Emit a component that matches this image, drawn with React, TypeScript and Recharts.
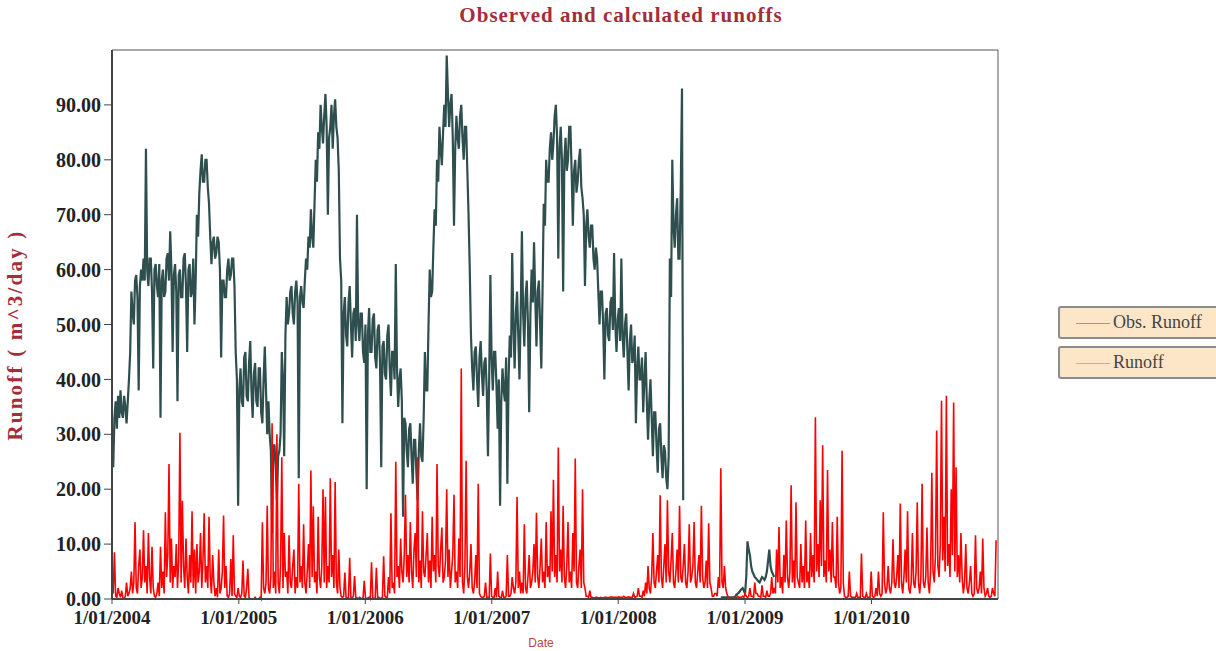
import React from "react";
import { LineChart, Line, XAxis, YAxis, ReferenceLine } from "recharts";

// x axis = days since 1/01/2004, two readings per week
const STEP_DAYS = 3.5;
const yearTicks = [0, 366, 731, 1096, 1461, 1827, 2192];
const yearLabels = ["1/01/2004", "1/01/2005", "1/01/2006", "1/01/2007", "1/01/2008", "1/01/2009", "1/01/2010"];
const yTicks = [0, 10, 20, 30, 40, 50, 60, 70, 80, 90];

// Obs. Runoff, one row per quarter (2004 Q1 ... 2009 Q1)
const obsRunoff: (number | null)[] = [
  30, 24, 33, 36, 31, 37, 33, 38, 34, 33, 37, 35, 32, 36, 40, 45, 56, 52, 50, 58, 59, 55, 38, 57, 60, 58,
  62, 58, 82, 60, 57, 62, 62, 56, 42, 60, 61, 57, 55, 61, 33, 58, 60, 55, 56, 62, 63, 58, 67, 60, 45, 59,
  61, 56, 36, 59, 60, 55, 55, 62, 63, 57, 45, 60, 61, 55, 56, 62, 50, 58, 70, 66, 74, 78, 81, 76, 76, 80,
  80, 75, 72, 66, 61, 65, 66, 62, 63, 66, 65, 60, 44, 58, 58, 55, 55, 60, 62, 58, 59, 62, 62, 57, 45, 40,
  17, 38, 42, 36, 35, 44, 45, 37, 36, 43, 47, 38, 33, 41, 43, 36, 35, 42, 42, 34, 32, 40, 46, 38, 30, 36,
  30, 27, 12, 28, 28, 24, 18, 26, 27, 30, 45, 40, 26, 48, 55, 50, 52, 56, 57, 52, 50, 56, 58, 54, 22, 55,
  57, 54, 53, 58, 62, 60, 66, 64, 71, 66, 64, 72, 80, 76, 85, 82, 90, 86, 83, 88, 92, 86, 70, 84, 86, 90,
  82, 88, 91, 86, 84, 78, 62, 58, 32, 52, 55, 48, 46, 54, 57, 50, 44, 52, 53, 47, 70, 50, 47, 52, 52, 45,
  43, 50, 20, 48, 53, 45, 45, 51, 52, 44, 42, 49, 50, 43, 24, 46, 47, 41, 40, 48, 50, 42, 37, 45, 45, 40,
  61, 42, 35, 40, 42, 36, 15, 33, 32, 27, 24, 31, 32, 26, 21, 29, 29, 23, 18, 27, 32, 26, 25, 33, 45, 38,
  38, 50, 60, 55, 56, 64, 71, 68, 80, 76, 86, 82, 79, 85, 90, 86, 99, 92, 86, 90, 92, 84, 68, 82, 88, 84,
  82, 88, 90, 84, 80, 86, 86, 78, 70, 60, 48, 42, 38, 45, 46, 40, 35, 44, 47, 41, 37, 43, 44, 38, 26, 40,
  59, 44, 38, 45, 45, 39, 31, 40, 17, 36, 42, 38, 36, 44, 21, 40, 48, 44, 63, 50, 42, 52, 56, 48, 40, 52,
  67, 52, 46, 55, 58, 50, 34, 52, 60, 54, 65, 55, 46, 56, 58, 50, 42, 56, 72, 68, 80, 76, 76, 82, 85, 80,
  83, 88, 90, 84, 62, 82, 86, 80, 56, 80, 84, 78, 80, 86, 86, 78, 68, 78, 80, 74, 76, 80, 82, 75, 73, 70,
  57, 68, 71, 66, 64, 68, 68, 62, 60, 64, 62, 56, 50, 56, 56, 50, 40, 52, 53, 48, 47, 54, 55, 49, 63, 50,
  45, 51, 53, 47, 62, 48, 44, 50, 52, 45, 38, 47, 50, 43, 44, 48, 32, 42, 46, 40, 40, 44, 34, 40, 45, 36,
  29, 36, 40, 33, 26, 34, 34, 28, 23, 31, 32, 26, 22, 28, 27, 22, 20, 26, 62, 55, 80, 68, 64, 70, 73, 62,
  62, 75, 93, 18, null, null, null, null, null, null, null, null, null, null, null, null, null, null, null, null, null, null, null, null, null, null,
  null, null, null, null, null, null, null, null, 0.3, 0.3, 0.3, 0.3, 0.3, 0.3, 0.3, 0.3, 0.3, 0.3, 0.3, 0.3, 0.5, 0.8, 1, 1.2, 1.5, 1.8,
  2, 1.5, 1, 4, 10.5, 9, 8, 6, 5, 4.5, 4, 3.8, 3.5, 3.2, 3, 3.5, 4, 3.8, 3.5, 4, 5, 7, 9, 6, 5, 4.5,
  4,
];

// calculated Runoff, one row per quarter (2004 Q1 ... 2010 Q4)
const calcRunoff = [
  5, 1, 8.5, 0.5, 0.3, 2, 1, 0.3, 1.5, 0.2, 0, 0.5, 3, 0.5, 1, 2, 5, 1, 3, 14, 2, 1, 6, 9, 2, 4,
  12.5, 3, 6, 1, 12, 4, 1, 9.5, 2, 0.5, 0.3, 1, 3, 0.5, 9.5, 2, 5, 1, 15.8, 4, 8, 24.6, 3, 11, 2, 6,
  4, 10, 2, 7, 30.3, 3, 17.9, 6, 2, 11, 4, 1, 8, 3, 16, 2, 9, 1, 10, 3, 5, 12, 2, 7, 15.6, 3,
  6, 2, 15, 4, 1, 8, 3, 0.5, 2, 0.3, 9, 1, 2, 5, 15.2, 2, 6, 0.5, 0.3, 1, 7.3, 0.5, 11.6, 1, 0.5, 0.3,
  2, 0.5, 0.3, 1, 7, 0.5, 0.3, 2, 5.5, 0.3, 0, 0, 0, 0, 0.3, 0, 0, 0, 0.3, 0, 14, 2, 1, 3, 17, 2,
  1, 4, 32, 2, 5, 1, 30, 3, 1, 6, 25.8, 2, 12, 4, 5, 1, 11.6, 3, 2, 6, 9, 1, 4, 2, 21, 3,
  6, 2, 13.6, 3, 1, 5, 10, 2, 23.4, 4, 16.9, 3, 5, 1, 15, 4, 2, 6, 20, 3, 18.6, 2, 6, 3, 22, 4,
  8, 2, 21.3, 3, 1, 9, 2, 0.5, 0.3, 0.5, 4.8, 0.3, 0.2, 0.3, 7.5, 0.3, 0.2, 0.5, 4.2, 0.3, 0.2, 0, 0.3, 0.2, 0, 0.2,
  3.3, 0.3, 0, 0.2, 0.3, 0, 6.7, 0.3, 0, 0.2, 5.7, 0.3, 0.3, 0, 0.2, 0.3, 7.8, 0.5, 0.3, 0.2, 4, 1, 15.6, 2, 3, 1,
  25, 4, 6, 2, 11, 5, 3, 8, 19, 4, 8, 3, 14, 5, 2, 9, 12, 4, 25.8, 3, 7, 2, 16, 5, 4, 8,
  12, 3, 7, 2, 15, 5, 8, 3, 24.6, 6, 4, 9, 13, 3, 4, 7, 20, 4, 9, 2, 5, 8, 19, 3, 5, 2,
  11, 4, 42, 3, 1, 6, 25.2, 4, 2, 5, 10, 2, 1, 3, 8, 2, 21, 1, 0.5, 0.3, 0.3, 0.5, 3, 0.3, 0.3, 0.2,
  8.3, 0.5, 0.3, 0.2, 2, 0.3, 5, 0.5, 0.3, 0.2, 1.5, 0.3, 0.3, 0.5, 8, 0.5, 0.5, 1, 4, 2, 1, 3, 18.6, 2, 5, 1,
  3, 1, 13.6, 2, 1, 4, 8, 2, 3, 5, 10, 3, 15.7, 4, 2, 6, 11, 3, 5, 2, 14, 4, 6, 3, 16, 5,
  21.7, 4, 8, 3, 27.6, 5, 9, 3, 17, 4, 2, 6, 14, 3, 5, 2, 12, 5, 25.6, 3, 2, 6, 9, 2, 20, 3,
  2, 0.5, 0.5, 0.3, 1.5, 0.3, 0.3, 0.2, 0.2, 0.3, 0.3, 0.2, 0.2, 0.3, 0.2, 0.2, 0.3, 0.3, 0.3, 0.2, 0.3, 0.3, 0.4, 0.3, 0.3, 0.3,
  0.3, 0.3, 0.4, 0.3, 0.3, 0.3, 0.5, 0.3, 0.3, 0.3, 0.4, 0.3, 0.3, 0.3, 1, 0.3, 0.4, 0.5, 2, 0.5, 0.5, 0.3, 1.5, 0.5, 3, 1,
  6, 2, 1, 4, 12, 3, 2, 5, 8, 3, 18.9, 4, 2, 6, 10, 3, 18, 5, 3, 7, 12, 3, 2, 5, 9, 3,
  17, 4, 3, 6, 10, 3, 2, 5, 13.6, 3, 4, 6, 14, 3, 2, 5, 8, 3, 17, 4, 2, 3, 7, 2, 13.8, 3,
  2, 0.5, 0.5, 1, 1, 0.5, 4, 2, 23.8, 3, 2, 6, 2, 1, 0.3, 0.3, 0.2, 0.2, 0.3, 0.3, 0.2, 0.2, 0.5, 0.3, 0.3, 0.3,
  0.5, 0.3, 1, 0.5, 0.3, 0.5, 2, 0.5, 0.5, 0.3, 3, 1, 1, 0.5, 0.5, 0.3, 2.5, 0.5, 0.5, 0.3, 1.5, 0.5, 0.5, 1, 4, 1,
  2, 1, 9, 3, 13.1, 2, 4, 1, 8, 3, 14.3, 4, 2, 5, 20.7, 3, 7, 2, 17.6, 4, 3, 2, 10, 3, 6, 2,
  14.3, 3, 5, 2, 12, 4, 8, 3, 33.1, 5, 10, 4, 18, 6, 28, 4, 7, 3, 23.5, 5, 9, 3, 14, 4, 4, 2,
  15, 3, 1, 2, 27, 3, 0.5, 0.3, 0.3, 0.5, 5, 0.5, 0.3, 0.3, 0.3, 0.2, 1, 0.3, 0.3, 0.2, 8.3, 0.5, 0.3, 0.2, 1, 0.3,
  0.3, 0.2, 5, 0.5, 0.3, 0.5, 2, 0.5, 5, 1, 0.5, 1, 15.8, 3, 1, 2, 6, 2, 1, 3, 10.9, 3, 2, 4, 8, 2,
  17.4, 3, 1, 4, 9, 3, 16, 2, 1, 3, 12, 3, 2, 5, 17.6, 3, 1, 4, 21, 3, 2, 4, 13, 3, 1, 5,
  23, 5, 3, 8, 30.7, 6, 4, 10, 36.1, 7, 15, 5, 37, 6, 10, 4, 20, 8, 35.8, 5, 24, 4, 8, 3, 12, 4,
  1, 3, 10, 2, 1, 3, 6, 1, 0.5, 1, 11.6, 2, 1, 2, 5, 1, 11, 2, 0.5, 1, 2, 0.5, 0.3, 0.5, 2, 1,
  0.5, 10.7,
];

const data = calcRunoff.map((v, i) => ({
  day: i * STEP_DAYS,
  runoff: v,
  obs: i < obsRunoff.length ? obsRunoff[i] : null,
}));

const SERIF = "'Liberation Serif', 'DejaVu Serif', serif";
const TITLE_RED = "#a52d3a";

function LegendBox({ top, color, label }: { top: number; color: string; label: string }) {
  return (
    <div
      style={{
        position: "absolute",
        left: 1058,
        top,
        width: 170,
        height: 33,
        background: "#fde6c8",
        border: "2px solid #8c8c8c",
        borderRadius: 3,
        boxSizing: "border-box",
      }}
    >
      <div style={{ position: "absolute", left: 16, top: 15, width: 34, height: 1, background: color }} />
      <div
        style={{
          position: "absolute",
          left: 53,
          top: 4,
          fontFamily: SERIF,
          fontSize: 18,
          color: "#444",
          whiteSpace: "nowrap",
        }}
      >
        {label}
      </div>
    </div>
  );
}

export default function App() {
  return (
    <div
      style={{
        position: "absolute",
        left: 0,
        top: 0,
        width: 1216,
        height: 651,
        overflow: "hidden",
        background: "#fff",
      }}
    >
      <div
        style={{
          position: "absolute",
          left: 621,
          top: 3,
          transform: "translateX(-50%)",
          fontFamily: SERIF,
          fontWeight: "bold",
          fontSize: 21,
          letterSpacing: 1,
          color: TITLE_RED,
          whiteSpace: "nowrap",
        }}
      >
        Observed and calculated runoffs
      </div>
      <div
        style={{
          position: "absolute",
          left: 15,
          top: 335,
          transform: "translate(-50%, -50%) rotate(-90deg)",
          fontFamily: SERIF,
          fontWeight: "bold",
          fontSize: 21,
          letterSpacing: 2.2,
          color: TITLE_RED,
          whiteSpace: "nowrap",
        }}
      >
        Runoff ( m^3/day )
      </div>
      <div
        style={{
          position: "absolute",
          left: 541,
          top: 636,
          transform: "translateX(-50%)",
          fontFamily: "'Liberation Sans', Arial, sans-serif",
          fontSize: 12,
          color: "#b8453f",
        }}
      >
        Date
      </div>
      <LineChart
        width={1216}
        height={651}
        data={data}
        margin={{ top: 50, right: 218, bottom: 0, left: 0 }}
      >
        <XAxis
          type="number"
          dataKey="day"
          domain={[0, 2557]}
          ticks={yearTicks}
          tickFormatter={(v: number) => yearLabels[yearTicks.indexOf(v)] ?? ""}
          height={52}
          tickSize={5}
          tickMargin={7}
          tickLine={{ stroke: "#444" }}
          axisLine={{ stroke: "#444", strokeWidth: 2 }}
          tick={{ fontFamily: SERIF, fontWeight: "bold", fontSize: 19, fill: "#222" }}
          interval={0}
        />
        <YAxis
          type="number"
          domain={[0, 100]}
          ticks={yTicks}
          tickFormatter={(v: number) => v.toFixed(2)}
          width={112}
          tickSize={8}
          tickMargin={3}
          tickLine={{ stroke: "#444" }}
          axisLine={{ stroke: "#444", strokeWidth: 2 }}
          tick={{ fontFamily: SERIF, fontWeight: "bold", fontSize: 20, fill: "#222" }}
          interval={0}
        />
        <ReferenceLine y={100} stroke="#a8a8a8" strokeWidth={2} />
        <ReferenceLine x={2557} stroke="#555" strokeWidth={1} />
        <Line
          type="linear"
          dataKey="obs"
          stroke="#2f4f4f"
          strokeWidth={2.2}
          dot={false}
          isAnimationActive={false}
        />
        <Line
          type="linear"
          dataKey="runoff"
          stroke="#ff0000"
          strokeWidth={1.6}
          dot={false}
          isAnimationActive={false}
        />
      </LineChart>
      <LegendBox top={306} color="#9a9a9a" label="Obs. Runoff" />
      <LegendBox top={346} color="#f29a9a" label="Runoff" />
    </div>
  );
}
